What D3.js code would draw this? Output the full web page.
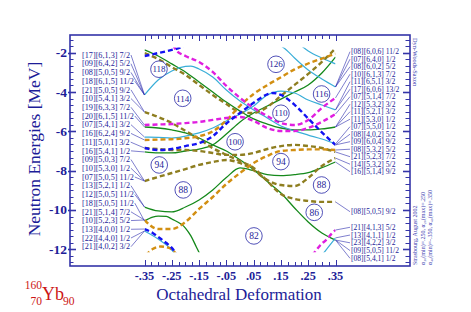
<!DOCTYPE html>
<html><head><meta charset="utf-8">
<script src="https://cdn.jsdelivr.net/npm/d3@7/dist/d3.min.js"></script>
<style>html,body{margin:0;padding:0;background:#fff}svg{display:block}</style>
</head><body>
<svg id="chart" width="471" height="312"></svg>
<script>
// ---------- data ----------
const deformTicks = [-0.35,-0.25,-0.15,-0.05,0.05,0.15,0.25,0.35];
const deformTickLabels = ["-.35","-.25","-.15","-.05",".05",".15",".25",".35"];
const energyTicks = [-2,-4,-6,-8,-10,-12];
const energyTickLabels = ["-2","-4","-6","-8","-10","-12"];
const grid = [-0.35,-0.30,-0.25,-0.20,-0.15,-0.10,-0.05,0,0.05,0.10,0.15,0.20,0.25,0.30,0.35];

// energies (MeV) on the grid
const greenA  = [-1.86,-2.17,-2.57,-2.98,-3.49,-4.00,-4.51,-4.97,-5.37,-5.63,-5.83,-5.93,-5.93,-5.88,-5.78];
const greenB  = [-7.05,-7.10,-7.10,-7.00,-6.90,-6.69,-6.14,-5.52,-5.07,-4.71,-4.36,-4.00,-3.64,-3.03,-2.22];
const greenC  = [-5.78,-5.83,-5.93,-6.08,-6.34,-6.69,-7.00,-7.45,-7.95,-8.55,-9.14,-9.90,-10.61,-11.17,-11.53];
const greenD  = [-9.85,-10.05,-10.10,-9.85,-9.49,-8.98,-8.35,-7.86,-8.00,-8.20,-8.25,-8.20,-8.10,-7.85,-7.56];
const oliveA  = [-2.02,-2.32,-2.73,-3.13,-3.64,-4.15,-4.61,-5.02,-5.07,-4.76,-4.20,-3.64,-3.08,-2.47,-1.78];
const oliveB  = [-5.02,-5.27,-5.58,-5.98,-6.39,-6.85,-7.20,-7.51,-7.86,-8.53,-9.19,-9.44,-9.54,-9.59,-9.59];
const oliveC  = [-6.85,-6.90,-6.95,-6.95,-7.00,-7.10,-7.20,-7.20,-7.10,-6.90,-6.75,-6.69,-6.75,-6.85,-7.05];
const oliveD  = [-8.53,-8.32,-8.12,-7.92,-7.71,-7.56,-7.46,-7.61,-7.97,-8.48,-8.73,-8.78,-8.37,-7.76,-7.36];
const orangeA = [-6.44,-6.42,-6.40,-6.35,-6.25,-6.00,-5.45,-4.70,-4.10,-3.65,-3.25,-2.85,-2.55,-2.30,-2.05];
const orangeB = [-10.51,-10.97,-10.97,-10.61,-9.95,-9.34,-8.68,-8.12,-7.61,-7.25,-7.00,-6.95,-6.92,-6.92,-6.95];
const magentaB= [-5.68,-5.65,-5.63,-5.58,-5.52,-5.42,-5.32,-5.27,-5.47,-5.83,-5.98,-5.98,-5.83,-5.52,-5.12];
const cyanB   = [-6.29,-6.31,-6.34,-6.24,-6.08,-5.83,-5.47,-5.12,-4.71,-4.15,-3.95,-4.05,-4.41,-4.66,-4.91];

// [deformation, energy] pairs
const blueA   = [[-0.35,-2.17],[-0.30,-2.02],[-0.25,-1.86],[-0.22,-1.74],[-0.20,-1.60]];
const blueB   = [[-0.35,-6.85],[-0.30,-6.95],[-0.25,-6.90],[-0.20,-6.75],[-0.15,-6.60],[-0.10,-6.25],[-0.05,-5.60],[0,-5.07],[0.05,-4.55],[0.10,-4.12],[0.12,-4.05],[0.15,-4.15],[0.20,-4.65],[0.25,-5.35],[0.30,-6.05],[0.35,-6.69]];
const blueC   = [[-0.35,-10.97],[-0.32,-11.17],[-0.30,-11.37],[-0.27,-11.68],[-0.25,-11.93],[-0.23,-12.30]];
const magentaA= [[-0.245,-1.60],[-0.235,-1.86],[-0.20,-2.17],[-0.15,-2.47],[-0.10,-2.98],[-0.05,-3.69],[0,-4.30],[0.05,-4.81],[0.10,-5.22],[0.15,-5.58],[0.20,-5.68],[0.25,-5.42],[0.30,-4.81],[0.35,-4.30]];
const magentaC= [[0.265,-12.29],[0.28,-12.04],[0.295,-11.78],[0.315,-11.53],[0.335,-11.22],[0.35,-11.02]];
const cyanA   = [[-0.35,-4.15],[-0.30,-3.39],[-0.25,-2.93],[-0.20,-2.70],[-0.18,-2.68],[-0.15,-2.83],[-0.10,-3.24],[-0.05,-3.90],[0,-4.46],[0.05,-4.91],[0.10,-5.32],[0.15,-5.73],[0.20,-5.98],[0.25,-6.19],[0.30,-6.39],[0.35,-6.64]];
const cyanC   = [[-0.35,-11.07],[-0.30,-11.48],[-0.25,-12.04],[-0.235,-12.30]];
const cyanD   = [[0.30,-12.29],[0.315,-12.04],[0.33,-11.78],[0.35,-11.42]];
const cyanE   = [[0.14,-1.56],[0.17,-1.86],[0.20,-2.27],[0.25,-2.88],[0.30,-3.34],[0.35,-3.74]];
const cyanF   = [[0.22,-1.60],[0.25,-1.91],[0.30,-2.27],[0.35,-2.57]];
const greenE  = [[-0.35,-10.56],[-0.32,-10.36],[-0.30,-10.31],[-0.27,-10.33],[-0.25,-10.46],[-0.20,-10.92],[-0.18,-11.32],[-0.16,-11.88],[-0.14,-12.44]];
const orangeC = [[-0.345,-12.30],[-0.32,-11.99],[-0.29,-11.86],[-0.26,-11.93],[-0.24,-12.14],[-0.23,-12.35]];

const energyWindow = [-12.15,-1.74];

const leftLabels = ["[17][6,1,3] 7/2","[09][6,4,2] 5/2","[08][5,0,5] 9/2","[18][6,1,5] 11/2","[21][5,0,5] 9/2","[10][5,4,1] 3/2","[19][6,3,3] 7/2","[20][6,1,5] 11/2","[07][5,4,1] 3/2","[16][6,2,4] 9/2","[11][5,0,1] 3/2","[16][5,4,1] 1/2","[09][5,0,3] 7/2","[10][5,3,0] 1/2","[07][5,0,5] 11/2","[13][5,2,1] 1/2","[12][5,0,5] 11/2","[18][5,0,5] 11/2","[21][5,1,4] 7/2","[10][5,2,3] 5/2","[13][4,0,0] 1/2","[22][4,4,0] 1/2","[21][4,0,2] 3/2"];
const leftLinks = ["cyanA","cyanA","cyanA","cyanA","oliveB","oliveB","magentaB","greenC","cyanB","orangeA","blueB","greenB","oliveD","oliveD","oliveD","greenD","greenD","greenE","orangeB","orangeB","blueC","cyanC","cyanC"];
const rightLabels = ["[08][6,0,6] 11/2","[07][6,4,0] 1/2","[08][6,0,2] 5/2","[10][6,1,3] 7/2","[11][6,5,1] 3/2","[17][6,0,6] 13/2","[07][5,1,4] 7/2","[12][5,3,2] 3/2","[11][5,2,1] 3/2","[11][5,3,0] 1/2","[07][5,5,0] 1/2","[08][4,0,2] 5/2","[09][6,0,4] 9/2","[08][5,3,2] 5/2","[21][5,2,3] 7/2","[14][5,3,2] 5/2","[16][5,1,4] 9/2","[08][5,0,5] 9/2","[21][4,1,3] 5/2","[13][4,1,1] 1/2","[23][4,2,2] 3/2","[09][5,0,5] 11/2","[08][5,4,1] 1/2"];
const rightLinks = ["cyanE","cyanE","cyanE","magentaA","cyanB","cyanB","magentaB","greenA","greenA","greenA","cyanA","blueB","blueB","orangeB","oliveC","oliveD","greenD","oliveB","magentaC","cyanD","greenC","greenC","greenC"];

const magicNumbers = ["118","126","114","116","110","100","94","94","88","88","86","82"];
const magicDeform  = [-0.297,0.132,-0.210,0.299,0.150,-0.018,-0.296,0.150,-0.208,0.299,0.272,0.051];
const magicEnergy  = [-2.84,-2.59,-4.32,-4.10,-5.08,-6.53,-7.71,-7.54,-8.98,-8.73,-10.12,-11.32];

const sideNotes = ["Strasbourg, August 2002","α₂₀(min)=.250, α₂₀(max)=.250","α₄₀(min)=-.350, α₄₀(max)=.350"];

// ---------- build ----------
const onGrid = arr => grid.map((d,i)=>[d,arr[i]]);
const curves = {
  greenA:{pts:onGrid(greenA),s:"green"}, greenB:{pts:onGrid(greenB),s:"green"},
  greenC:{pts:onGrid(greenC),s:"green"}, greenD:{pts:onGrid(greenD),s:"green"},
  greenE:{pts:greenE,s:"green"},
  cyanA:{pts:cyanA,s:"cyan"}, cyanB:{pts:onGrid(cyanB),s:"cyan"}, cyanC:{pts:cyanC,s:"cyan"},
  cyanD:{pts:cyanD,s:"cyan"}, cyanE:{pts:cyanE,s:"cyan"}, cyanF:{pts:cyanF,s:"cyan"},
  oliveA:{pts:onGrid(oliveA),s:"olive"}, oliveB:{pts:onGrid(oliveB),s:"olive"},
  oliveC:{pts:onGrid(oliveC),s:"olive"}, oliveD:{pts:onGrid(oliveD),s:"olive"},
  orangeA:{pts:onGrid(orangeA),s:"orange"}, orangeB:{pts:onGrid(orangeB),s:"orange"}, orangeC:{pts:orangeC,s:"orange"},
  magentaA:{pts:magentaA,s:"magenta"}, magentaB:{pts:onGrid(magentaB),s:"magenta"}, magentaC:{pts:magentaC,s:"magenta"},
  blueA:{pts:blueA,s:"blue"}, blueB:{pts:blueB,s:"blue"}, blueC:{pts:blueC,s:"blue"}
};
const styles = {
  green:{c:"#15891b",w:1.3,dash:null,o:0},
  cyan:{c:"#3aaed8",w:1.2,dash:null,o:1},
  olive:{c:"#8e7e20",w:2.4,dash:"5,3",o:2},
  orange:{c:"#d28f12",w:2.4,dash:"5,3",o:3},
  magenta:{c:"#e01ee0",w:2.4,dash:"5,3",o:4},
  blue:{c:"#1212f2",w:2.4,dash:"5,3",o:5}
};

const svg = d3.select("#chart");
const SERIF = "'Liberation Serif','DejaVu Serif',serif";
const NAVY = "#1d1d98", FRAMEC = "#3434a8";
const F = {l:70,t:35,r:410,b:266};
const x = d3.scaleLinear().domain([-0.35,0.35]).range([144.5,335.5]);
const y = d3.scaleLinear().domain([-12.85,-1.10]).range([F.b,F.t]);

svg.append("rect").attr("width",471).attr("height",312).attr("fill","#fff");

svg.append("defs").append("clipPath").attr("id","win").append("rect")
  .attr("x",x(-0.35)).attr("y",y(energyWindow[1]))
  .attr("width",x(0.35)-x(-0.35)).attr("height",y(energyWindow[0])-y(energyWindow[1]));

// frame
svg.append("rect").attr("x",F.l).attr("y",F.t).attr("width",F.r-F.l).attr("height",F.b-F.t)
  .attr("fill","none").attr("stroke",FRAMEC).attr("stroke-width",1.6);

// ticks
const tk = svg.append("g").attr("stroke",FRAMEC).attr("stroke-width",1);
d3.range(-38,-3).forEach(k=>{
  const e=k/3, yy=Math.round(y(e))+0.5, major=(k%6===0);
  tk.append("line").attr("x1",major?F.l-2:F.l).attr("x2",F.l+(major?6:3.5)).attr("y1",yy).attr("y2",yy).attr("stroke-width",major?1.6:1);
  tk.append("line").attr("x1",F.r-(major?7:4.5)).attr("x2",F.r).attr("y1",yy).attr("y2",yy).attr("stroke-width",major?1.6:1);
});
d3.range(0,29).forEach(i=>{
  const d=-0.35+i*0.025, xx=Math.round(x(d))+0.5, major=(i%4===0);
  const len = major?6:4;
  tk.append("line").attr("x1",xx).attr("x2",xx).attr("y1",F.b).attr("y2",F.b-len);
  tk.append("line").attr("x1",xx).attr("x2",xx).attr("y1",F.t).attr("y2",F.t+len);
});

// tick labels
energyTicks.forEach((e,i)=>{
  svg.append("text").attr("x",67).attr("y",y(e)+4.5).attr("text-anchor","end")
    .attr("font-family",SERIF).attr("font-weight","bold").attr("font-size",13.5).attr("fill",NAVY).text(energyTickLabels[i]);
});
deformTicks.forEach((d,i)=>{
  svg.append("text").attr("x",x(d)).attr("y",279.5).attr("text-anchor","middle")
    .attr("font-family",SERIF).attr("font-weight","bold").attr("font-size",12.3).attr("fill",NAVY).text(deformTickLabels[i]);
});

// axis titles
svg.append("text").attr("transform","translate(40,149) rotate(-90)").attr("text-anchor","middle")
  .attr("font-family",SERIF).attr("font-size",17.5).attr("fill",NAVY).text("Neutron Energies [MeV]");
svg.append("text").attr("x",239).attr("y",299.5).attr("text-anchor","middle")
  .attr("font-family",SERIF).attr("font-size",17).attr("fill",NAVY).text("Octahedral Deformation");

// nucleus
const RED="#cc1515";
svg.append("text").attr("x",42).attr("y",289).attr("text-anchor","end").attr("font-family",SERIF).attr("font-size",11.5).attr("fill",RED).text("160");
svg.append("text").attr("x",42).attr("y",305).attr("text-anchor","end").attr("font-family",SERIF).attr("font-size",11.5).attr("fill",RED).text("70");
svg.append("text").attr("x",42).attr("y",300).attr("font-family",SERIF).attr("font-size",18).attr("fill",RED).text("Yb");
svg.append("text").attr("x",63).attr("y",305).attr("font-family",SERIF).attr("font-size",11.5).attr("fill",RED).text("90");

// side notes
svg.append("text").attr("transform","translate(413,38) rotate(90)").attr("font-family",SERIF)
  .attr("font-size",6.3).attr("fill","#3a3ab0").text("Dyn-Woods-Saxon");
sideNotes.forEach((t,i)=>{
  svg.append("text").attr("transform",`translate(${417+i*7.5},265) rotate(-90)`).attr("font-family",SERIF)
    .attr("font-size",6).attr("fill","#3a3ab0").text(t);
});

// curves
const line = d3.line().x(p=>x(p[0])).y(p=>y(p[1])).curve(d3.curveMonotoneX);
const gC = svg.append("g").attr("clip-path","url(#win)");
Object.entries(curves).sort((a,b)=>styles[a[1].s].o-styles[b[1].s].o).forEach(([k,c])=>{
  const s=styles[c.s];
  gC.append("path").attr("d",line(c.pts)).attr("fill","none").attr("stroke",s.c)
    .attr("stroke-width",s.w).attr("stroke-dasharray",s.dash);
});

// magic number circles
magicNumbers.forEach((m,i)=>{
  const cx=x(magicDeform[i]), cy=y(magicEnergy[i]);
  svg.append("circle").attr("cx",cx).attr("cy",cy).attr("r",8.3).attr("fill","#fff").attr("stroke","#2626a6").attr("stroke-width",0.8);
  svg.append("text").attr("x",cx).attr("y",cy+3.2).attr("text-anchor","middle").attr("font-family",SERIF)
    .attr("font-size",m.length>2?9:9.5).attr("fill","#1d1d98").text(m);
});

// labels
const LBL="#1d1d98", LNK="#2a2aac";
const leftY = i => 55 + i*8.714;
leftLabels.forEach((t,i)=>{
  const ty=leftY(i);
  const tx=svg.append("text").attr("x",82).attr("y",ty+2.7).attr("font-family",SERIF).attr("font-size",8.2).attr("fill",LBL).text(t);
  const w=tx.node().getComputedTextLength();
  const c=curves[leftLinks[i]].pts[0];
  svg.append("line").attr("x1",82+w+1).attr("y1",ty).attr("x2",x(c[0])).attr("y2",y(c[1])).attr("stroke",LNK).attr("stroke-width",0.6);
});
const rightY = i => i<17 ? 51.7+i*7.5 : (i===17 ? 211.7 : 227.3+(i-18)*7.75);
rightLabels.forEach((t,i)=>{
  const ty=rightY(i);
  svg.append("text").attr("x",351).attr("y",ty+2.5).attr("font-family",SERIF).attr("font-size",7.6).attr("fill",LBL).text(t);
  const pts=curves[rightLinks[i]].pts, c=pts[pts.length-1];
  svg.append("line").attr("x1",x(c[0])).attr("y1",y(c[1])).attr("x2",350).attr("y2",ty).attr("stroke",LNK).attr("stroke-width",0.6);
});
</script>
</body></html>
